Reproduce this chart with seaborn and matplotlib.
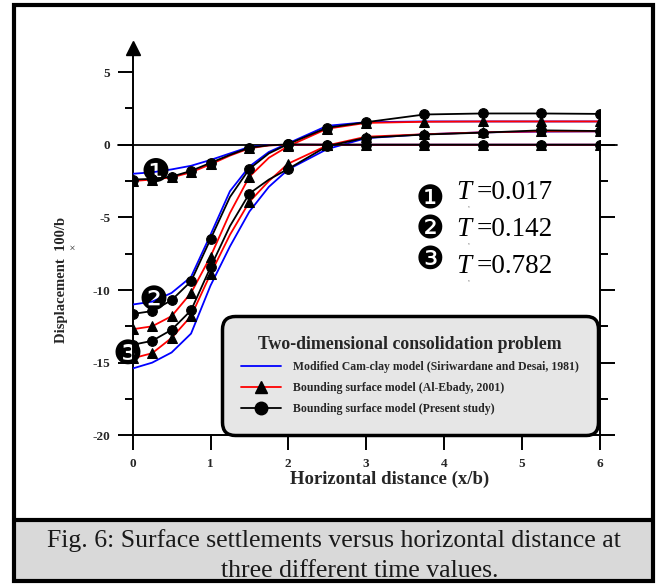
import matplotlib
matplotlib.use('Agg')
import matplotlib.pyplot as plt
import seaborn as sns
from matplotlib.lines import Line2D
from matplotlib.patches import Rectangle

# ---------------- data ----------------
x_dist = [0, 0.25, 0.5, 0.75, 1, 1.25, 1.5, 1.75, 2, 2.5, 3, 3.75, 4.5, 5.25, 6]
marker_idx = [0, 1, 2, 3, 4, 6, 8, 9, 10, 11, 12, 13, 14]

t1_camclay = [-2.0, -1.9, -1.7, -1.45, -1.05, -0.6, -0.15, -0.03, 0, 0, 0, 0, 0, 0, 0]
t1_alebady = [-2.5, -2.4, -2.25, -1.9, -1.35, -0.75, -0.25, -0.05, 0, 0, 0, 0, 0, 0, 0]
t1_present = [-2.4, -2.35, -2.2, -1.8, -1.25, -0.7, -0.2, -0.04, 0.02, 0, 0, 0, 0, 0, 0]

t2_camclay = [-11.0, -10.8, -10.2, -9.1, -6.2, -3.2, -1.5, -0.5, 0.1, 1.3, 1.55, 1.6, 1.6, 1.6, 1.6]
t2_alebady = [-12.7, -12.5, -11.8, -10.2, -7.7, -4.7, -2.2, -0.9, -0.1, 1.1, 1.5, 1.58, 1.6, 1.6, 1.6]
t2_present = [-11.65, -11.45, -10.7, -9.4, -6.5, -3.6, -1.66, -0.6, 0.05, 1.17, 1.55, 2.08, 2.15, 2.15, 2.12]

t3_camclay = [-15.4, -15.0, -14.3, -13.0, -9.7, -7.0, -4.6, -2.9, -1.7, -0.3, 0.45, 0.72, 0.85, 0.9, 0.92]
t3_alebady = [-14.7, -14.35, -13.3, -11.8, -8.9, -6.2, -3.93, -2.5, -1.3, -0.05, 0.55, 0.72, 0.85, 0.92, 0.92]
t3_present = [-13.77, -13.5, -12.74, -11.4, -8.44, -5.6, -3.36, -2.4, -1.66, -0.1, 0.48, 0.7, 0.83, 0.99, 0.94]

time_labels = ["0.017", "0.142", "0.782"]
model_labels = ["Modified Cam-clay model (Siriwardane and Desai, 1981)",
                "Bounding surface model (Al-Ebady, 2001)",
                "Bounding surface model (Present study)"]
x_ticks = [0, 1, 2, 3, 4, 5, 6]
y_ticks = [-20, -15, -10, -5, 0, 5]
caption_lines = ["Fig. 6: Surface settlements versus horizontal distance at",
                 "three different time values."]

# ---------------- figure ----------------
sns.set_theme(style='ticks')
plt.rcParams['font.family'] = ['Liberation Serif', 'DejaVu Sans']
plt.rcParams['axes.unicode_minus'] = False

W, H = 659, 584
fig = plt.figure(figsize=(W / 100, H / 100), dpi=100)
fig.patch.set_facecolor('white')


def fx(px):
    return px / W


def fy(py):
    return 1 - py / H


# outer frame and caption band
fig.patches.append(Rectangle((fx(14), fy(581)), fx(653) - fx(14), fy(520) - fy(581),
                             transform=fig.transFigure, facecolor='#d9d9d9',
                             edgecolor='none', zorder=0))
fig.patches.append(Rectangle((fx(14), fy(581)), fx(653) - fx(14), fy(5) - fy(581),
                             transform=fig.transFigure, facecolor='none',
                             edgecolor='black', lw=3, zorder=5))
fig.lines.append(Line2D([fx(14), fx(653)], [fy(520), fy(520)], transform=fig.transFigure,
                        color='black', lw=3, zorder=5))

ax = fig.add_axes([fx(132.7), fy(435.3), (599.5 - 132.7) / W, (435.3 - 43) / H])
ax.set_facecolor('none')

groups = [(t1_camclay, t1_alebady, t1_present),
          (t2_camclay, t2_alebady, t2_present),
          (t3_camclay, t3_alebady, t3_present)]
for cam, aleb, pres in groups:
    sns.lineplot(x=x_dist, y=cam, ax=ax, color='#0000ff', lw=1.3, sort=False,
                 estimator=None, zorder=3)
    sns.lineplot(x=x_dist, y=aleb, ax=ax, color='#ff0000', lw=1.3, sort=False,
                 estimator=None, marker='^', markersize=7, markevery=marker_idx,
                 markerfacecolor='black', markeredgecolor='black', zorder=4)
    sns.lineplot(x=x_dist, y=pres, ax=ax, color='black', lw=1.3, sort=False,
                 estimator=None, marker='o', markersize=7, markevery=marker_idx,
                 markerfacecolor='black', markeredgecolor='black', zorder=5)

ax.set_xlim(0, 6)
ax.set_ylim(-20, 7)
ax.set_xlabel('')
ax.set_ylabel('')

for s in ['top', 'right']:
    ax.spines[s].set_visible(False)
for s in ['left', 'bottom']:
    ax.spines[s].set_linewidth(1.4)
    ax.spines[s].set_color('black')
ax.spines['left'].set_bounds(-20, 6.3)

tick_font = dict(fontweight='bold', fontfamily='Liberation Serif', fontsize=9.5)
ax.set_xticks(x_ticks, labels=[str(v) for v in x_ticks], **tick_font)
ax.set_yticks(y_ticks, labels=[str(v) for v in y_ticks], **tick_font)
ax.set_yticks([-17.5, -12.5, -7.5, -2.5, 2.5], minor=True)
ax.tick_params(axis='both', which='major', direction='out', length=11, width=1.4,
               color='black', pad=5)
ax.tick_params(axis='y', which='minor', direction='out', length=5.5, width=1.4,
               color='black', left=True)
ax.tick_params(axis='x', which='minor', bottom=False)

# y-axis arrow head and zero line
ax.plot([0], [6.68], marker='^', markersize=10, color='black', clip_on=False, zorder=6)
ax.axhline(0, xmin=-0.0315, xmax=1.0375, color='black', lw=1.3, clip_on=False, zorder=2)

# right axis ticks (from 0 down to -20)
ax2 = ax.twinx()
ax2.set_ylim(-20, 7)
for s in ['top', 'left', 'bottom']:
    ax2.spines[s].set_visible(False)
ax2.spines['right'].set_bounds(-20, 0)
ax2.spines['right'].set_linewidth(1.4)
ax2.spines['right'].set_color('black')
ax2.set_yticks([-20, -15, -10, -5, 0])
ax2.set_yticks([-17.5, -12.5, -7.5, -2.5], minor=True)
ax2.tick_params(axis='y', which='major', direction='out', length=11, width=1.4,
                labelright=False, color='black')
ax2.tick_params(axis='y', which='minor', direction='out', length=5.5, width=1.4,
                color='black', right=True)

# legend
handles = [Line2D([], [], color='#0000ff', lw=1.3),
           Line2D([], [], color='#ff0000', lw=1.3, marker='^', ms=9, mfc='black', mec='black'),
           Line2D([], [], color='black', lw=1.3, marker='o', ms=9, mfc='black', mec='black')]
leg = ax.legend(handles, model_labels, title='Two-dimensional consolidation problem',
                loc='upper left', bbox_to_anchor=(0.1907, 0.304), borderaxespad=0,
                prop=dict(weight='bold', size=8.5),
                title_fontproperties=dict(weight='bold', size=12.8),
                frameon=True, fancybox=True, handlelength=3.4, handletextpad=1.0,
                labelspacing=0.75, borderpad=1.65, framealpha=1)
frame = leg.get_frame()
frame.set_facecolor('#e6e6e6')
frame.set_edgecolor('black')
frame.set_linewidth(2.5)
frame.set_boxstyle('round,pad=0,rounding_size=1.1')
leg.set_zorder(10)

# axis labels
fig.text(fx(390), fy(484), 'Horizontal distance (x/b)', ha='center', va='baseline',
         fontweight='bold', fontsize=13.5)
fig.text(fx(62), fy(280), 'Displacement  100/b', rotation=90, ha='center', va='center',
         fontweight='bold', fontsize=10.5)
fig.text(fx(74), fy(247), '×', rotation=90, ha='center', va='center', fontsize=8)

# numbered curve markers on the left
for ch, (px, py) in zip(['❶', '❷', '❸'], [(155, 172), (153, 300), (127, 355)]):
    fig.text(fx(px), fy(py), ch, ha='center', va='center', fontsize=24,
             family='DejaVu Sans', color='black', zorder=8)

# time legend on the right
rows_base = [199, 236, 273]
circ_y = [200, 230, 260]
for ch, tl, yb, yc in zip(['❶', '❷', '❸'], time_labels, rows_base, circ_y):
    fig.text(fx(430), fy(yc), ch, ha='center', va='center', fontsize=23,
             family='DejaVu Sans', color='black')
    fig.text(fx(456), fy(yb), 'T', ha='left', va='baseline', fontsize=19.5,
             style='italic', color='black')
    fig.text(fx(468), fy(yb + 9), 'v', ha='left', va='baseline', fontsize=3,
             color='#666666')
    fig.text(fx(477), fy(yb), '=' + tl, ha='left', va='baseline', fontsize=19.5,
             color='black')

# caption
fig.text(fx(334), fy(547), caption_lines[0], ha='center', va='baseline', fontsize=18.5,
         color='#1a1a1a')
fig.text(fx(360), fy(577), caption_lines[1], ha='center', va='baseline', fontsize=18.5,
         color='#1a1a1a')

fig.savefig('out.png', dpi=100)
